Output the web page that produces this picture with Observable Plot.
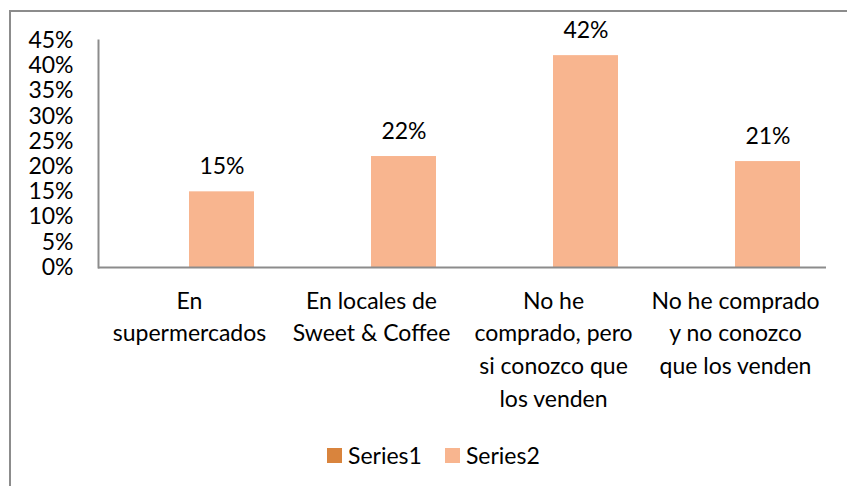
<!DOCTYPE html>
<html>
<head>
<meta charset="utf-8">
<script src="https://cdn.jsdelivr.net/npm/d3@7"></script>
<script src="https://cdn.jsdelivr.net/npm/@observablehq/plot@0.6"></script>
<style>
  html, body { margin: 0; padding: 0; background: #fff; }
  #wrap { position: relative; width: 847px; height: 486px; overflow: hidden; font-family: Lato, "Open Sans", sans-serif; }
  #border { position: absolute; left: 9px; top: 10px; width: 900px; height: 500px; border-left: 2px solid #8c8c8c; border-top: 2px solid #8c8c8c; box-sizing: border-box; }
  #chart { position: absolute; left: 0; top: 0; }
  #chart [aria-label="frame"], #chart [aria-label="frame"] * { stroke: #8c8c8c; stroke-width: 2px; }
  #legend { position: absolute; left: 327px; top: 441px; display: flex; align-items: center; font-size: 23px; color: #000; }
  .item { display: flex; align-items: center; margin-right: 23px; }
  .sw { width: 15px; height: 15px; margin-right: 6px; }
</style>
</head>
<body>
<div id="wrap">
  <div id="border"></div>
  <div id="chart"></div>
  <div id="legend"></div>
</div>
<script>
const categories = ["En supermercados", "En locales de Sweet & Coffee", "No he comprado, pero si conozco que los venden", "No he comprado y no conozco que los venden"];
const categoryLabels = ["En\nsupermercados", "En locales de\nSweet & Coffee", "No he\ncomprado, pero\nsi conozco que\nlos venden", "No he comprado\ny no conozco\nque los venden"];
const seriesNames = ["Series1", "Series2"];
const series1 = [null, null, null, null];
const series2 = [0.15, 0.22, 0.42, 0.21];
const yTicks = [0, 0.05, 0.10, 0.15, 0.20, 0.25, 0.30, 0.35, 0.40, 0.45];
const colors = ["#D9843D", "#F8B58F"];

const data = [];
categories.forEach((c, i) => {
  data.push({cat: c, series: "Series1", value: series1[i]});
  data.push({cat: c, series: "Series2", value: series2[i]});
});
const bars = data.filter(d => d.value != null);
const labelOf = new Map(categories.map((c, i) => [c, categoryLabels[i]]));

const chart = Plot.plot({
  width: 847,
  height: 430,
  marginTop: 40,
  marginBottom: 163,
  marginLeft: 96,
  marginRight: 20,
  style: {fontFamily: "Lato, 'Open Sans', sans-serif", fontSize: "23px", color: "#000", background: "transparent"},
  fx: {domain: categories, padding: 0, label: null},
  x: {domain: seriesNames, paddingInner: 0, paddingOuter: 0.385, axis: null},
  y: {domain: [0, 0.45], ticks: yTicks, tickFormat: d3.format(".0%"), tickSize: 0, tickPadding: 25, label: null, line: true},
  color: {domain: seriesNames, range: colors},
  marks: [
    Plot.barY(bars, {fx: "cat", x: "series", y: "value", fill: "series"}),
    Plot.text(bars, {fx: "cat", x: "series", y: "value", text: d => d3.format(".0%")(d.value), dy: -25, lineAnchor: "middle", fill: "#000"}),
    Plot.ruleY([0], {stroke: "#8c8c8c", strokeWidth: 2}),
    Plot.axisFx({anchor: "bottom", tickFormat: d => labelOf.get(d), tickSize: 0, tickPadding: 18, lineHeight: 1.42, label: null, fontSize: 23})
  ]
});
document.getElementById("chart").appendChild(chart);

const legend = document.getElementById("legend");
seriesNames.forEach((s, i) => {
  const item = document.createElement("div");
  item.className = "item";
  const sw = document.createElement("div");
  sw.className = "sw";
  sw.style.background = colors[i];
  const t = document.createElement("span");
  t.textContent = s;
  item.appendChild(sw);
  item.appendChild(t);
  legend.appendChild(item);
});
</script>
</body>
</html>
